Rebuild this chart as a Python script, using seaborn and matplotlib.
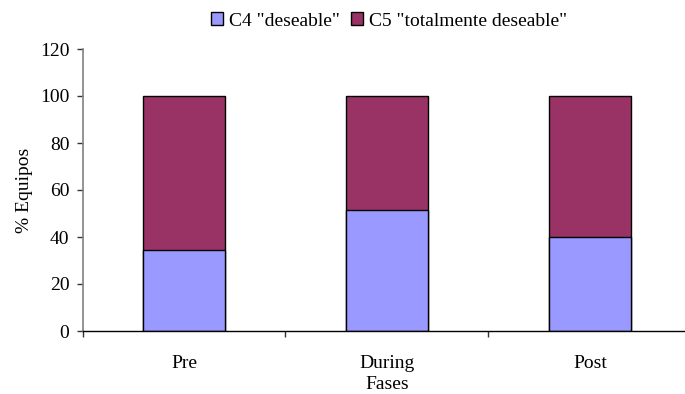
import matplotlib
matplotlib.use("Agg")
import matplotlib.pyplot as plt
from matplotlib.patches import Patch
from matplotlib.ticker import FixedLocator
import seaborn as sns
import pandas as pd

# Data: share of teams (%) per phase
fases = ["Pre", "During", "Post"]
c4_deseable = [34.4, 51.5, 40.0]
c5_totalmente = [65.6, 48.5, 60.0]
series_labels = ['C4 "deseable"', 'C5 "totalmente deseable"']
y_ticks = [0, 20, 40, 60, 80, 100, 120]

color_c4 = "#9999FF"
color_c5 = "#993366"

sns.set_theme(style="white")
plt.rcParams["font.family"] = ["Liberation Serif", "DejaVu Serif"]
plt.rcParams.update({"text.color": "black", "axes.labelcolor": "black",
                     "xtick.color": "black", "ytick.color": "black"})

df = pd.DataFrame({
    "Fase": fases,
    "C4": c4_deseable,
    "Total": [a + b for a, b in zip(c4_deseable, c5_totalmente)],
})

fig = plt.figure(figsize=(6.85, 3.94), dpi=100)
ax = fig.add_axes([82.5 / 685, 1 - 331 / 394, 609 / 685, 282 / 394])

bar_kw = dict(width=0.407, edgecolor="black", linewidth=1.0, ax=ax)
sns.barplot(data=df, x="Fase", y="Total", color=color_c5, saturation=1, **bar_kw)
sns.barplot(data=df, x="Fase", y="C4", color=color_c4, saturation=1, **bar_kw)

ax.set_xlim(-0.5, 2.5)
ax.set_ylim(0, 120)
ax.set_yticks(y_ticks)
ax.set_yticklabels([str(v) for v in y_ticks])

fs = 14

# category labels without marks; marks sit between categories
ax.set_xticks(range(len(fases)))
ax.set_xticklabels(fases)
ax.xaxis.set_minor_locator(FixedLocator([-0.5, 0.5, 1.5, 2.5]))
ax.tick_params(axis="x", which="major", bottom=True, length=0, pad=17,
               labelsize=fs, labelcolor="black")
ax.tick_params(axis="x", which="minor", bottom=True, length=4, width=1,
               direction="out", color="#333333")
ax.tick_params(axis="y", which="major", left=True, length=4, width=1,
               direction="out", color="#333333", labelsize=fs, pad=5.5,
               labelcolor="black")

ax.set_xlabel("Fases", fontsize=fs, labelpad=3, color="black")
ax.set_ylabel("% Equipos", fontsize=fs, labelpad=5, color="black")

for side in ["top", "right"]:
    ax.spines[side].set_visible(False)
ax.spines["left"].set_color("#808080")
ax.spines["left"].set_linewidth(1.2)
ax.spines["bottom"].set_color("black")
ax.spines["bottom"].set_linewidth(1.0)
ax.grid(False)

handles = [Patch(facecolor=color_c4, edgecolor="black", linewidth=1.0),
           Patch(facecolor=color_c5, edgecolor="black", linewidth=1.0)]
fig.legend(handles, series_labels, loc="center", bbox_to_anchor=(389 / 685, 1 - 21 / 394),
           ncol=2, frameon=False, fontsize=fs, handlelength=0.6, handleheight=0.6,
           handletextpad=0.3, columnspacing=0.6, labelcolor="black")

fig.savefig("out.png", dpi=100)
